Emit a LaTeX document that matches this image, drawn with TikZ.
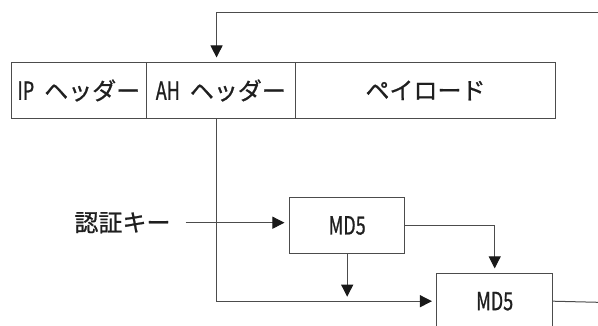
\documentclass[tikz,border=0pt]{standalone}
\usepackage{fontspec}
\setmainfont{Noto Sans CJK JP}[FakeBold=0.8]
\newfontfamily\lat[FakeStretch=0.72,FakeBold=0.8]{Noto Sans CJK JP}
\usetikzlibrary{arrows.meta}
\tikzset{
  ln/.style={draw=black!70, line width=1pt},
  arr/.style={ln, -{Triangle[length=12pt,width=12pt,color=black!90]}, shorten >=4.5pt},
  seg/.style={ln, minimum height=56pt, inner sep=0pt, anchor=north west, text=black!88,
              font=\fontsize{24}{28}\selectfont},
  mdbox/.style={ln, minimum width=115.5pt, minimum height=55.6pt, inner sep=0pt, text=black!88,
              font=\lat\fontsize{25}{28}\selectfont},
  lbl/.style={inner sep=0pt, text=black!88, font=\fontsize{24}{28}\selectfont}
}
\newcommand{\lt}[1]{{\lat\fontsize{25}{28}\selectfont #1}}
\begin{document}
\begin{tikzpicture}[x=1pt,y=-1pt]
\useasboundingbox (0,0) rectangle (598,326);
\clip (0,0) rectangle (598,326);
% header segments
\node[seg, minimum width=134.7pt] (ip) at (11,62) {\lt{IP}\hspace{10pt}ヘッダー};
\node[seg, minimum width=149.3pt] (ah) at (145.7,62) {\lt{AH}\hspace{10pt}ヘッダー};
\node[seg, minimum width=260pt] (pay) at (295,62) {ペイロード};
% MD5 boxes
\node[mdbox] (md1) at (347.2,225.5) {MD5};
\node[mdbox] (md2) at (494.7,301.2) {MD5};
% key label
\node[lbl] (key) at (122.5,222.7) {認証キー};
% free ends
\coordinate (fb) at (598,12.3);
\coordinate (out) at (598,302.3);
% connectors
\draw[arr] (fb) -| ([xshift=-4.3pt]ah.north);
\draw[arr] ([xshift=-4.3pt]ah.south) |- (md2.west);
\draw[arr] ([xshift=15pt]key.east) -- (key.east -| md1.west);
\draw[arr] (md1.east) -| (md2.north);
\draw[arr] (md1.south) -- (md1.south |- md2.west);
\draw[ln] (md2.east) -- (out);
\end{tikzpicture}
\end{document}
